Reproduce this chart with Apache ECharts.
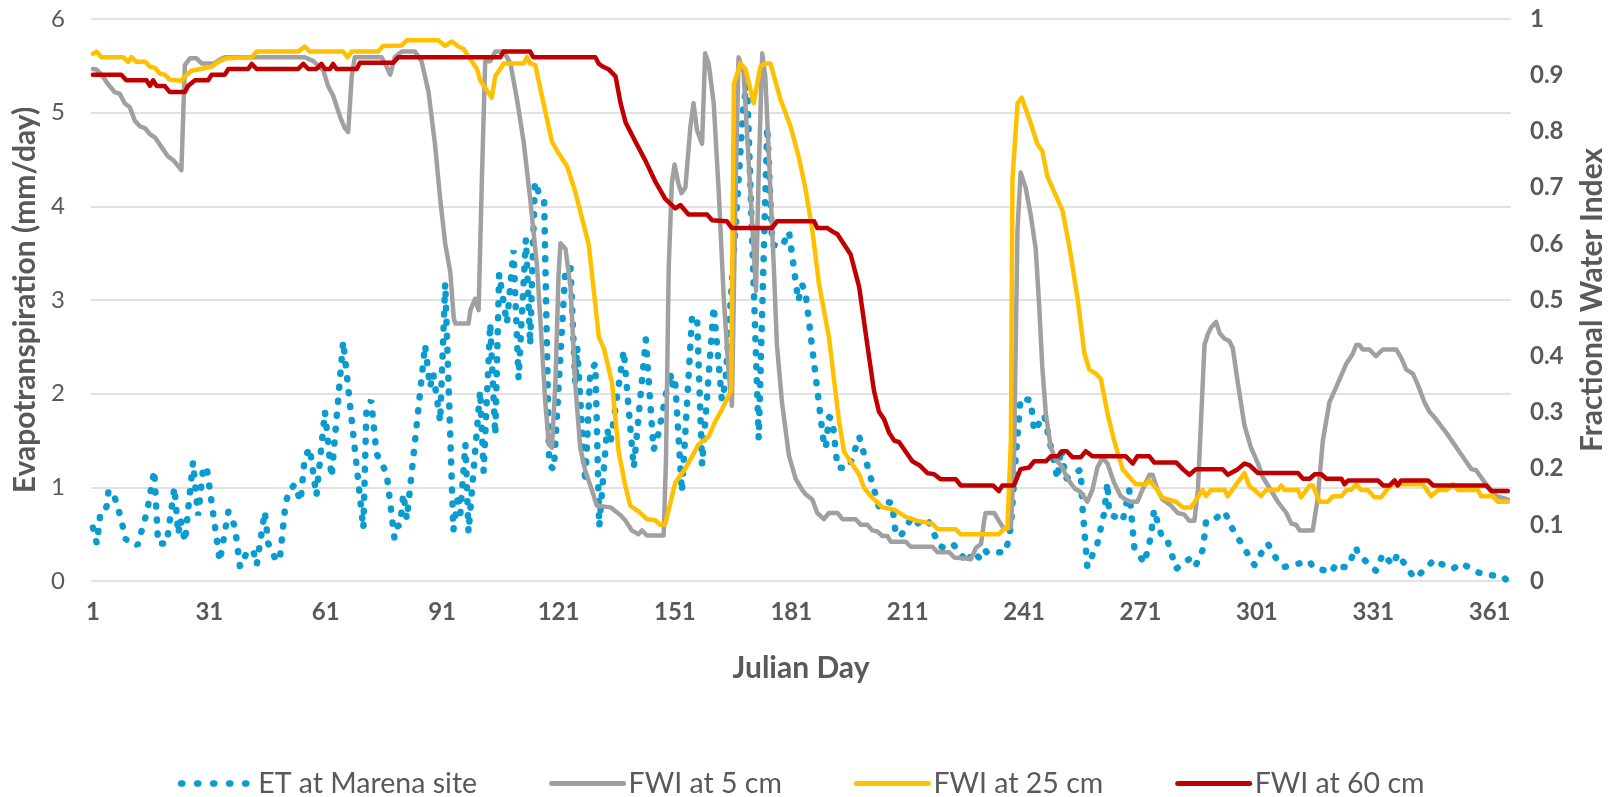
<!DOCTYPE html>
<html><head><meta charset="utf-8">
<script src="https://cdn.jsdelivr.net/npm/echarts@6/dist/echarts.min.js"></script>
<style>html,body{margin:0;padding:0;background:#fff}#c{width:1623px;height:797px}</style>
</head><body><div id="c"></div>
<script>
const seriesNames = ['ET at Marena site', 'FWI at 5 cm', 'FWI at 25 cm', 'FWI at 60 cm'];
const xTickLabels = [1, 31, 61, 91, 121, 151, 181, 211, 241, 271, 301, 331, 361];
const leftTicks = [0, 1, 2, 3, 4, 5, 6];

// ET at Marena site (mm/day), [Julian day, value]
const etMarena = [[1,0.57],[2,0.4],[3,0.75],[4.5,0.79],[5,0.96],[6.2,0.95],[8,0.7],[9.5,0.44],[10.5,0.44],[12.5,0.38],[15,0.75],[16.8,1.18],[17.8,0.4],[20,0.4],[22,1.0],[23,0.5],[23.6,0.66],[24.7,0.42],[26.8,1.27],[28.1,0.7],[29.4,1.2],[30.3,1.22],[33.7,0.21],[35.9,0.74],[37.6,0.58],[38.9,0.15],[40.6,0.3],[42.3,0.33],[43.2,0.17],[45.3,0.74],
[46.2,0.4],[48.3,0.21],[49.2,0.25],[50.5,0.77],[51.3,0.95],[53,1.03],[54.5,0.85],[55.6,1.32],[56.9,1.42],[58.6,0.91],[60.8,1.81],[62.5,1.11],[65.5,2.56],[70.7,0.56],[71.5,1.83],[72.7,1.93],[74.1,1.36],[76.7,1.15],[78.7,0.46],[79.3,0.58],[80.2,0.6],[81,0.93],[81.9,0.66],[86.6,2.52],[87.9,2.07],[88.7,2.22],[90.5,1.7],[91.8,3.18],
[93.9,0.54],[95.2,0.93],[95.7,0.72],[97,1.46],[97.8,0.52],[100.8,2.03],[101.7,1.17],[103.4,2.75],[104.7,1.56],[105.7,3.28],[107.7,2.75],[109.4,3.53],[110.7,2.16],[112.6,3.65],[113.7,2.52],[114.9,4.26],[116.3,4.1],[117.3,4.05],[118.6,1.24],[119.8,1.19],[122.8,3.34],[124.1,3.34],[125.3,2.11],[125.8,2.5],[127.9,1.05],[129.2,2.24],[130.5,2.32],[131.5,0.58],[133.5,1.62],[134.4,1.48],[137.8,2.46],
[140.4,1.21],[143.5,2.58],[145.5,1.4],[146.8,1.58],[149.8,2.24],[150.2,2.07],[151,2.17],[152.8,0.95],[155.4,2.81],[156.7,2.83],[158,1.24],[161,2.93],[163.1,1.93],[164,2.11],[168.7,5.1],[169.6,5.3],[172.6,1.52],[174.8,4.85],[176.1,3.59],[178.6,3.57],[180.4,3.73],[182.8,2.99],[183.8,3.16],[184.6,3.1],
[189.4,1.46],[189.9,1.42],[190.7,1.75],[191.6,1.73],[192.9,1.21],[195.9,1.21],[198.5,1.54],[203.6,0.79],[205.3,0.85],[207,0.83],[207.9,0.5],[209.2,0.48],[211.8,0.66],[212.7,0.6],[216.1,0.66],[217,0.58],[219.1,0.38],[220,0.36],[222.5,0.4],[223.8,0.34],[226.4,0.19],[227.7,0.31],[229.4,0.25],[230.7,0.34],
[231.5,0.3],[236.3,0.31],[237.6,0.58],[238.8,1.3],[240.1,1.95],[242.7,1.93],[243.6,1.6],[246.2,1.77],[249.6,1.09],[250.5,1.42],[251.7,1.09],[255.6,1.19],[256,0.81],[257.3,0.15],[259.9,0.4],[261.6,0.72],[262.5,1.05],[262.9,0.72],[266.4,0.64],[268.1,0.97],[269.4,0.36],[272,0.19],[273.7,0.48],[274.5,0.76],[276.3,0.5],
[277.6,0.48],[280.2,0.13],[284.1,0.25],[285.3,0.17],[287.1,0.34],[287.9,0.64],[290.1,0.66],[292.7,0.74],[294.4,0.58],[299.5,0.23],[300.4,0.17],[303,0.36],[303.8,0.4],[306.4,0.21],[308.1,0.15],[309.9,0.17],[314.6,0.21],[315.4,0.15],[320.2,0.09],[321.5,0.19],[323.2,0.15],
[324.4,0.15],[326.6,0.36],[327,0.29],[331.7,0.11],[333.5,0.29],[336,0.17],[337.3,0.29],[341.6,0.03],[342.9,0.07],[346.8,0.23],[348.1,0.19],[351.5,0.13],[353.7,0.19],[357.1,0.11],[359.3,0.07],[364.4,0.05],[365.3,0.01]];

// Fractional Water Index at 5 cm
const fwi5 = [[1,0.911],[1.9,0.91],[3.2,0.901],[4.9,0.884],[6.6,0.87],[7.9,0.867],[9.2,0.85],[10.5,0.843],[11.8,0.819],[13.1,0.809],[14.4,0.806],[15.7,0.795],[17,0.789],[18.7,0.772],[20.4,0.755],[21.7,0.749],[23.8,0.731],[24.7,0.918],[26,0.93],[27.7,0.93],[29,0.921],[32.4,0.921],[33.7,0.928],[35,0.932],
[55.6,0.932],[57.8,0.925],[60.4,0.908],[61.6,0.881],[62.9,0.864],[64.7,0.826],[65.9,0.806],[66.8,0.799],[67.7,0.898],[68.5,0.932],[75.4,0.932],[76.7,0.915],[77.6,0.901],[78.8,0.932],[80.6,0.942],[84,0.942],[85.7,0.925],[87.5,0.87],[89.2,0.775],[90.5,0.68],
[91.8,0.6],[93.1,0.55],[94,0.468],[94.4,0.458],[97.8,0.458],[98.3,0.482],[99.5,0.502],[100.4,0.482],[101.3,0.727],[102.1,0.925],[103.4,0.925],[104.7,0.942],[106.9,0.942],[108.6,0.921],[110.3,0.857],[112,0.782],[113.7,0.68],[115.5,0.557],[116.7,0.42],[117.6,0.318],[118.5,0.243],[119.3,0.237],[120.2,0.352],[121,0.543],[121.5,0.601],[122.8,0.591],[124.1,0.523],[125.3,0.352],[126.6,0.237],[127.9,0.196],[129.6,0.162],[130.9,0.134],[134.4,0.131],[135.7,0.124],[137,0.117],[138.3,0.107],
[139.9,0.09],[141.6,0.083],[142.5,0.09],[143.8,0.081],[148.1,0.081],[148.7,0.216],[149.4,0.557],[150.2,0.707],[150.9,0.741],[151.9,0.707],[152.7,0.69],[153.7,0.7],[155,0.809],[155.8,0.85],[156.7,0.802],[158,0.778],[158.8,0.939],[159.7,0.921],[161,0.85],[162.3,0.693],[163.6,0.502],[164.9,0.366],[165.7,0.312],[166.6,0.68],[167.4,0.932],[168.7,0.905],[170,0.748],[171.3,0.59],[171.9,0.516],[172.6,0.727],[173.5,0.939],[174.3,0.898],[175.2,0.761],[176.5,0.557],[177.3,0.42],[178.6,0.318],[180.4,0.223],[182.1,0.182],[183.8,0.162],[184.6,0.155],
[186.4,0.145],[187.7,0.121],[189.4,0.11],[190.7,0.121],[192.9,0.121],[194.2,0.11],[197.6,0.11],[198.9,0.1],[200.6,0.1],[201.9,0.09],[203.2,0.088],[204.5,0.08],[205.8,0.08],[206.6,0.07],[210.5,0.07],[211.8,0.061],[217.4,0.061],[218.7,0.051],[221.7,0.051],[223,0.042],[227.3,0.039],[228.6,0.059],[229.9,0.066],[230.7,0.107],[231.1,0.121],
[233.3,0.121],[234.5,0.107],[235.8,0.093],[237.6,0.095],[238.4,0.216],[239.3,0.625],[240.1,0.727],[241.4,0.7],[242.7,0.652],[244,0.591],[244.9,0.489],[245.7,0.38],[246.6,0.298],[247.9,0.237],[249.2,0.216],[250.9,0.202],[252.2,0.182],[254,0.165],[255.6,0.158],[257.3,0.141],[258.6,0.162],[259.9,0.202],[261.2,0.219],[262.5,0.209],[264.2,0.175],[265.9,0.151],[267.2,0.145],[268.5,0.141],[270.2,0.141],[271.5,0.162],[273.3,0.189],[274.1,0.189],[275.4,0.162],[276.7,0.145],
[278.9,0.134],[280.6,0.121],[282.3,0.118],[283.6,0.107],[284.9,0.107],[285.8,0.162],[286.6,0.284],[287.5,0.42],[288.4,0.44],[289.2,0.451],[290.5,0.461],[291.4,0.441],[292.7,0.431],[293.9,0.427],[294.8,0.414],[296.1,0.352],[297.8,0.277],[299.5,0.237],[301.3,0.209],[302.5,0.185],[304.3,0.165],[306.4,0.141],[308.6,0.121],[309.9,0.102],[311.1,0.1],[312,0.09],[315.4,0.09],[316.7,0.148],[318,0.25],[319.7,0.318],[321.5,0.346],[324,0.386],
[325.7,0.404],[326.6,0.42],[327.4,0.42],[328.3,0.412],[330,0.412],[331.7,0.4],[333.5,0.412],[336.9,0.412],[338.2,0.397],[339.5,0.376],[341.2,0.369],[342.5,0.349],[344.2,0.318],[345.5,0.301],[346.8,0.291],[349.8,0.264],[353.2,0.23],[356.3,0.199],[357.5,0.197],[360.1,0.172],[362.7,0.151],[365.7,0.145]];

// Fractional Water Index at 25 cm
const fwi25 = [[1,0.938],[1.9,0.942],[3.2,0.932],[8.8,0.932],[10.1,0.924],[10.9,0.932],[12.2,0.924],[14.4,0.924],[15.7,0.915],[17,0.913],[18.2,0.903],[19.5,0.901],[20.8,0.892],[23.8,0.89],[24.7,0.898],[26.4,0.908],[31.6,0.915],[33.3,0.924],[35.4,0.93],[41.9,0.932],[43.2,0.942],
[53.9,0.942],[55.6,0.951],[56.9,0.942],[65.5,0.942],[66.6,0.932],[67.7,0.942],[74.5,0.942],[75.8,0.952],[80.6,0.953],[81.9,0.962],[90,0.962],[91.8,0.952],
[93.5,0.96],[95.2,0.951],[96.5,0.947],[98.3,0.928],[100,0.911],[100.8,0.891],[103.8,0.86],[104.7,0.898],[106.9,0.921],[112,0.921],[112.9,0.932],[113.7,0.921],[115,0.918],[116.7,0.864],[119.3,0.782],[121,0.761],[123.2,0.738],[125.3,0.693],[128.8,0.598],[131.4,0.434],[132.7,0.414],[134.8,0.352],[136.5,0.23],[138.2,0.17],
[139.5,0.134],[141.6,0.124],[143.8,0.11],[145.9,0.108],[147.2,0.1],[148.5,0.101],[151.1,0.175],[153.7,0.2],[157.1,0.243],[159.7,0.257],[161.4,0.284],[163.1,0.305],[165.5,0.339],[166.2,0.884],[167.9,0.921],[169.2,0.911],[171.3,0.85],[173,0.915],[174.3,0.921],[175.6,0.921],[178.2,0.857],[180.8,0.809],[182.9,0.755],[184.6,0.7],
[186.4,0.625],[188.1,0.53],[190.7,0.434],[192,0.359],[193.3,0.284],[194.6,0.23],[198.5,0.189],[199.8,0.165],[201.5,0.151],[204.5,0.131],[207.5,0.127],[210.5,0.114],[213.5,0.107],[217.4,0.102],[218.7,0.092],[223.4,0.092],[224.7,0.083],
[234.5,0.083],[235.8,0.093],[236.7,0.093],[237.6,0.25],[238,0.714],[239.3,0.85],[240.4,0.86],[242.3,0.823],[244.4,0.778],[245.7,0.765],[247,0.72],[250.9,0.659],[252.6,0.598],[254.8,0.502],[256.5,0.407],[257.8,0.376],[259.5,0.369],[260.8,0.359],[262.5,0.298],[264.2,0.25],[266.4,0.199],[269.8,0.172],[272.4,0.172],[273.3,0.179],[275,0.165],[276.7,0.148],
[280.2,0.141],[281.9,0.131],[284,0.131],[287,0.162],[287.9,0.151],[289.2,0.162],[292.7,0.162],[293.5,0.151],[297.8,0.192],[299.1,0.168],[300.4,0.162],[302.1,0.151],[303.4,0.162],[306.4,0.162],[307.3,0.17],[308.1,0.162],[311.6,0.162],[312.4,0.149],[314.6,0.17],[315.4,0.17],[317.2,0.141],[319.3,0.141],[320.6,0.151],[322.8,0.151],[324.1,0.162],
[325.3,0.162],[326.6,0.172],[327.9,0.162],[329.6,0.162],[331.3,0.149],[333,0.149],[334.8,0.165],[336,0.172],[343.8,0.172],[345.9,0.151],[347.7,0.162],[350,0.162],[351.5,0.172],[352.8,0.162],[358,0.162],[358.8,0.151],[361.8,0.151],[363.1,0.141],[365.7,0.141]];

// Fractional Water Index at 60 cm
const fwi60 = [[1,0.901],[8.3,0.901],[9.6,0.891],[14.8,0.891],[15.7,0.881],[16.5,0.891],[17.4,0.881],[19.5,0.881],[20.8,0.87],[24.7,0.87],[25.5,0.881],[27.3,0.891],[30.7,0.891],[31.6,0.901],[35,0.901],[35.9,0.911],[41,0.911],[41.9,0.92],[43.2,0.911],
[53.9,0.911],[55.2,0.92],[56.5,0.911],[58.6,0.911],[59.9,0.92],[60.8,0.911],[62.1,0.911],[62.9,0.92],[63.8,0.911],[69,0.911],[69.8,0.922],[78.4,0.922],[79.7,0.932],
[106,0.932],[106.8,0.942],[113.7,0.942],[114.5,0.932],[130.5,0.932],[131.4,0.92],[132.5,0.915],[134,0.91],[135.7,0.898],[137,0.85],[138.3,0.816],
[140.8,0.782],[143.4,0.748],[146,0.71],[148.5,0.68],[151.1,0.663],[152.4,0.669],[154.5,0.652],[159.3,0.652],[160.6,0.642],[164.4,0.64],[165.7,0.628],[176,0.628],[177.3,0.64],[184.6,0.64],
[186.9,0.64],[187.7,0.628],[190.3,0.628],[191.6,0.622],[192.9,0.617],[196.3,0.581],[198.5,0.523],[200.6,0.42],[202.3,0.339],[203.6,0.301],[204.9,0.288],[206.2,0.264],[207.5,0.25],[208.8,0.247],[212.2,0.213],[214,0.206],[216.1,0.192],[217.8,0.19],[219.5,0.181],[223.4,0.181],[224.7,0.17],[233,0.17],
[234.5,0.16],[235.4,0.17],[238.4,0.17],[240.1,0.199],[242.3,0.202],[243.6,0.213],[246.6,0.213],[247.9,0.222],[249.6,0.222],[250.9,0.231],[252,0.231],[253.5,0.22],[255.6,0.22],[256.9,0.231],[258.6,0.222],[267.2,0.222],[269,0.209],[270.2,0.222],[273.3,0.222],[274.5,0.211],
[280.2,0.211],[281.9,0.199],[283.6,0.189],[285.3,0.199],[292.2,0.199],[293.5,0.189],[296.1,0.199],[297.8,0.209],[299.1,0.206],[301.3,0.192],[311.6,0.192],[312.9,0.182],[314.6,0.182],[315.9,0.19],[317.6,0.19],[318.9,0.182],[322.8,0.182],[323.6,0.172],[324.5,0.179],
[332.2,0.179],[333.5,0.17],[335.2,0.17],[336.5,0.179],[337.3,0.17],[338.2,0.179],[345.1,0.179],[346.4,0.17],[360.1,0.17],[361.4,0.16],[365.7,0.16]];

const colors = ['#0A9BD0', '#A0A0A0', '#FFC000', '#C00000'];
const txt = '#595959';
const ff = 'Lato, "Liberation Sans", sans-serif';
const etDash = [1, 13];

const chart = echarts.init(document.getElementById('c'), null, {renderer: 'canvas'});
chart.setOption({
  animation: false,
  backgroundColor: '#ffffff',
  textStyle: {fontFamily: ff, color: txt},
  grid: {left: 91, right: 112, top: 19, bottom: 216, containLabel: false},
  legend: {
    left: 173, top: 764, itemWidth: 72, itemHeight: 14, itemGap: 72,
    itemStyle: {opacity: 0},
    textStyle: {fontSize: 28.5, color: txt, fontFamily: ff},
    data: [
      {name: seriesNames[0], lineStyle: {width: 6.5, type: [1, 15], cap: 'round', color: colors[0]}},
      {name: seriesNames[1], lineStyle: {width: 5, color: colors[1]}},
      {name: seriesNames[2], lineStyle: {width: 5, color: colors[2]}},
      {name: seriesNames[3], lineStyle: {width: 5, color: colors[3]}}
    ]
  },
  xAxis: {
    type: 'value', min: 0.5, max: 366.5,
    name: 'Julian Day', nameLocation: 'middle', nameGap: 72,
    nameTextStyle: {fontSize: 30, fontWeight: 'bold', color: txt, fontFamily: ff},
    axisLine: {show: false}, axisTick: {show: false}, splitLine: {show: false},
    axisLabel: {customValues: xTickLabels, margin: 19, fontSize: 24, fontWeight: 'bold', color: txt, fontFamily: ff}
  },
  yAxis: [{
    type: 'value', min: leftTicks[0], max: leftTicks[leftTicks.length - 1], interval: 1,
    name: 'Evapotranspiration (mm/day)', nameLocation: 'middle', nameGap: 46,
    nameTextStyle: {fontSize: 30, fontWeight: 'bold', color: txt, fontFamily: ff},
    axisLine: {show: false}, axisTick: {show: false},
    axisLabel: {margin: 26, fontSize: 24, color: txt, fontFamily: ff},
    splitLine: {lineStyle: {color: '#D9D9D9', width: 1.5}}
  }, {
    type: 'value', min: 0, max: 1, interval: 0.1,
    name: 'Fractional Water Index', nameLocation: 'middle', nameGap: 66,
    nameTextStyle: {fontSize: 30, fontWeight: 'bold', color: txt, fontFamily: ff},
    axisLine: {show: false}, axisTick: {show: false},
    axisLabel: {margin: 19, fontSize: 24, fontWeight: 'bold', color: txt, fontFamily: ff},
    splitLine: {show: false}
  }],
  series: [{
    name: seriesNames[0], type: 'line', yAxisIndex: 0, data: etMarena,
    symbol: 'none', showSymbol: false, z: 1,
    lineStyle: {color: colors[0], width: 6.5, type: etDash, cap: 'round'},
    itemStyle: {color: colors[0]}
  }, {
    name: seriesNames[1], type: 'line', yAxisIndex: 1, data: fwi5,
    symbol: 'none', showSymbol: false, z: 2,
    lineStyle: {color: colors[1], width: 4.5, join: 'round', cap: 'round'},
    itemStyle: {color: colors[1]}
  }, {
    name: seriesNames[2], type: 'line', yAxisIndex: 1, data: fwi25,
    symbol: 'none', showSymbol: false, z: 3,
    lineStyle: {color: colors[2], width: 4.5, join: 'round', cap: 'round'},
    itemStyle: {color: colors[2]}
  }, {
    name: seriesNames[3], type: 'line', yAxisIndex: 1, data: fwi60,
    symbol: 'none', showSymbol: false, z: 4,
    lineStyle: {color: colors[3], width: 4.5, join: 'round', cap: 'round'},
    itemStyle: {color: colors[3]}
  }]
});
</script>
</body></html>
